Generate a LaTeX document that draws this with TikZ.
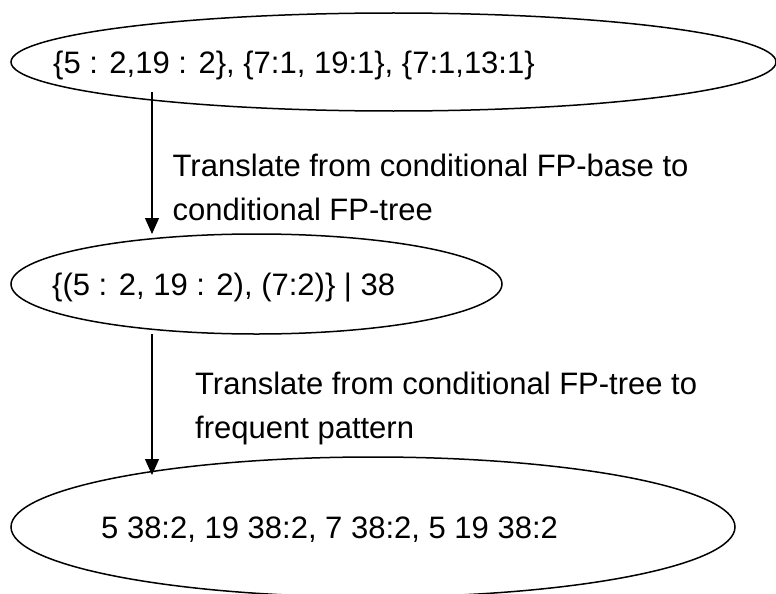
\documentclass[tikz,border=0pt]{standalone}
\usepackage{fontspec}
\setmainfont{Liberation Sans}
\usetikzlibrary{shapes.geometric,arrows.meta}
\begin{document}
\begin{tikzpicture}[x=1pt,y=-1pt,
  oval/.style={ellipse,draw,line width=1.5pt,inner sep=0pt,outer sep=0pt},
  txt/.style={anchor=base west,inner sep=0pt,font=\fontsize{31}{37}\selectfont},
  flow/.style={line width=1.2pt,-{Triangle[width=14pt,length=16pt]}}]
\useasboundingbox (0,0) rectangle (776,594);
\clip (0,0) rectangle (776,594);
% ellipses
\node[oval,minimum width=765pt,minimum height=98pt] (e1) at (393.5,62) {};
\node[oval,minimum width=491pt,minimum height=100pt] (e2) at (256.5,284) {};
\node[oval,minimum width=724pt,minimum height=140pt] (e3) at (373,527) {};
% texts inside ellipses
\node[txt] (t1) at (53,74) {\{5 : 2,19 : 2\}, \{7:1, 19:1\}, \{7:1,13:1\}};
\node[txt] (t2) at (52,295) {\{(5 : 2, 19 : 2), (7:2)\} | 38};
\node[txt] (t3) at (101,538) {5 38:2, 19 38:2, 7 38:2, 5 19 38:2};
% labels
\node[txt] (l1a) at (172.5,176) {Translate from conditional FP-base to};
\node[txt] (l1b) at (172.5,220) {conditional FP-tree};
\node[txt] (l2a) at (195,394) {Translate from conditional FP-tree to};
\node[txt] (l2b) at (195,438) {frequent pattern};
% arrows
\coordinate (a1s) at (152,92);
\coordinate (a1e) at (152,234);
\coordinate (a2s) at (152,334);
\coordinate (a2e) at (152,475);
\draw[flow] (a1s) -- (a1e);
\draw[flow] (a2s) -- (a2e);
\end{tikzpicture}
\end{document}
